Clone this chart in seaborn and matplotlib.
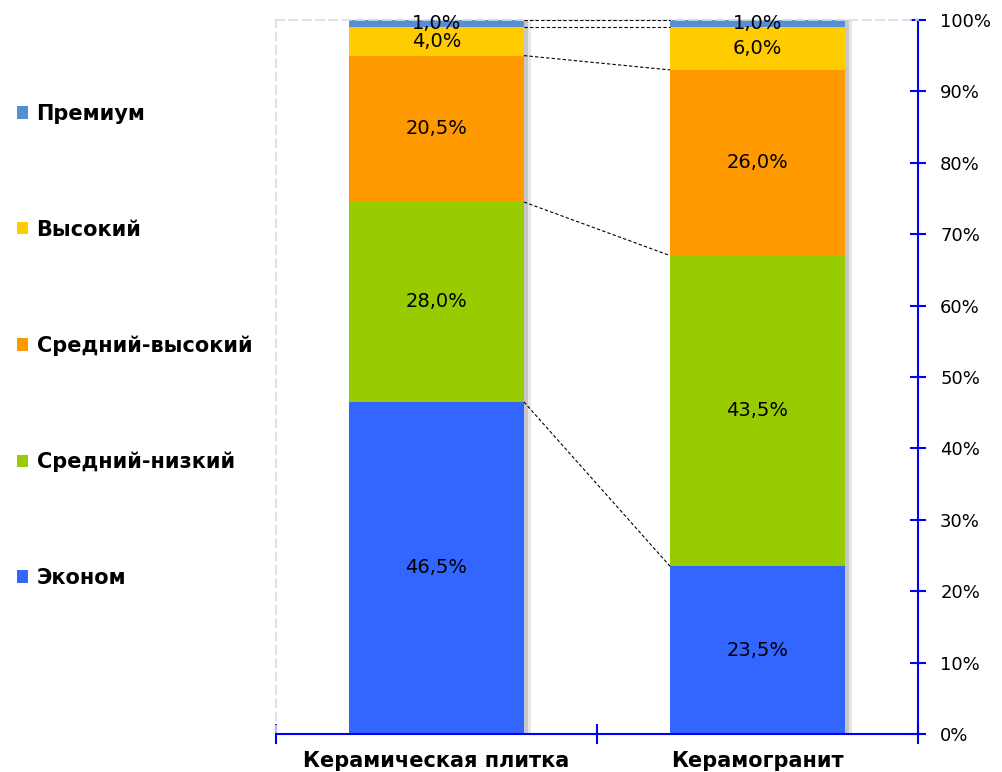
import pandas as pd
import matplotlib.pyplot as plt
import matplotlib.patheffects as pe
from matplotlib.patches import Patch
import seaborn as sns

# Data
categories = ["Керамическая плитка", "Керамогранит"]
segments = ["Эконом", "Средний-низкий", "Средний-высокий", "Высокий", "Премиум"]
shares = {
    "Эконом": [46.5, 23.5],
    "Средний-низкий": [28.0, 43.5],
    "Средний-высокий": [20.5, 26.0],
    "Высокий": [4.0, 6.0],
    "Премиум": [1.0, 1.0],
}
colors = {
    "Эконом": "#3366FF",
    "Средний-низкий": "#99CC00",
    "Средний-высокий": "#FF9900",
    "Высокий": "#FFCC00",
    "Премиум": "#558ED5",
}

sns.set_style("white")
plt.rcParams['font.family'] = ['DejaVu Sans']
plt.rcParams['text.color'] = 'black'

# cumulative table
df = pd.DataFrame(shares, index=categories)
cum = df[segments].cumsum(axis=1)

fig = plt.figure(figsize=(10.03, 7.72), dpi=100)
ax = fig.add_axes([0.2752, 0.0492, 0.640, 0.925])

blue = "#0000FF"
bar_w = 0.545

# draw layered bars from the top of the stack downward
for seg in reversed(segments):
    long = pd.DataFrame({"cat": categories, "val": cum[seg].values})
    sns.barplot(data=long, x="cat", y="val", order=categories, color=colors[seg],
                saturation=1, width=bar_w, ax=ax, zorder=2, edgecolor="none", linewidth=0)
# soft shadow on the right of each stack
for patch in ax.patches[:2]:
    patch.set_path_effects([pe.SimplePatchShadow(offset=(5, 0), shadow_rgbFace="#BBBBBB", alpha=0.35),
                            pe.SimplePatchShadow(offset=(3, 0), shadow_rgbFace="#999999", alpha=0.4),
                            pe.Normal()])

# connector lines between the stacks
for seg in segments:
    y0, y1 = cum.loc[categories[0], seg], cum.loc[categories[1], seg]
    ax.plot([0 + bar_w / 2, 1 - bar_w / 2], [y0, y1], ls=(0, (3, 2)), color="black", lw=0.8, zorder=3)

# value labels
for ci, cat in enumerate(categories):
    base = 0
    for seg in segments:
        v = df.loc[cat, seg]
        ax.text(ci, base + v / 2, f"{v:.1f}%".replace(".", ","), ha="center", va="center",
                fontsize=14, color="black", zorder=4)
        base += v

ax.set_xlim(-0.5, 1.5)
ax.set_ylim(0, 100)
ax.set_xlabel("")
ax.set_ylabel("")

# right y axis in blue
ax.yaxis.tick_right()
ax.set_yticks(range(0, 101, 10))
ax.set_yticklabels([f"{t}%" for t in range(0, 101, 10)], fontsize=13)
ax.tick_params(axis="y", direction="inout", length=12, width=1.5, color=blue, pad=10, labelcolor="black")

ax.set_xticks([0, 1])
ax.set_xticklabels(categories, fontsize=15, fontweight="bold", color="black")
ax.tick_params(axis="x", which="major", length=0, pad=12)
ax.set_xticks([-0.5, 0.5, 1.5], minor=True)
ax.tick_params(axis="x", which="minor", bottom=True, direction="inout", length=14, width=1.5, color=blue)

for side in ["right", "bottom"]:
    ax.spines[side].set_color(blue)
    ax.spines[side].set_linewidth(1.5)
for side in ["left", "top"]:
    ax.spines[side].set_color("#D5DCEA")
    ax.spines[side].set_linestyle((0, (5, 3)))
    ax.spines[side].set_linewidth(1.2)

# legend at left, top item is Премиум
handles = [Patch(facecolor=colors[s], edgecolor="none", label=s) for s in reversed(segments)]
leg = fig.legend(handles=handles, loc="upper left", bbox_to_anchor=(-0.002, 0.89), frameon=False,
                 prop={"size": 15, "weight": "bold"}, handlelength=0.55, handleheight=0.55,
                 handletextpad=0.4, labelspacing=4.6)
for t in leg.get_texts():
    t.set_color("black")

fig.savefig("out.png", dpi=100)
